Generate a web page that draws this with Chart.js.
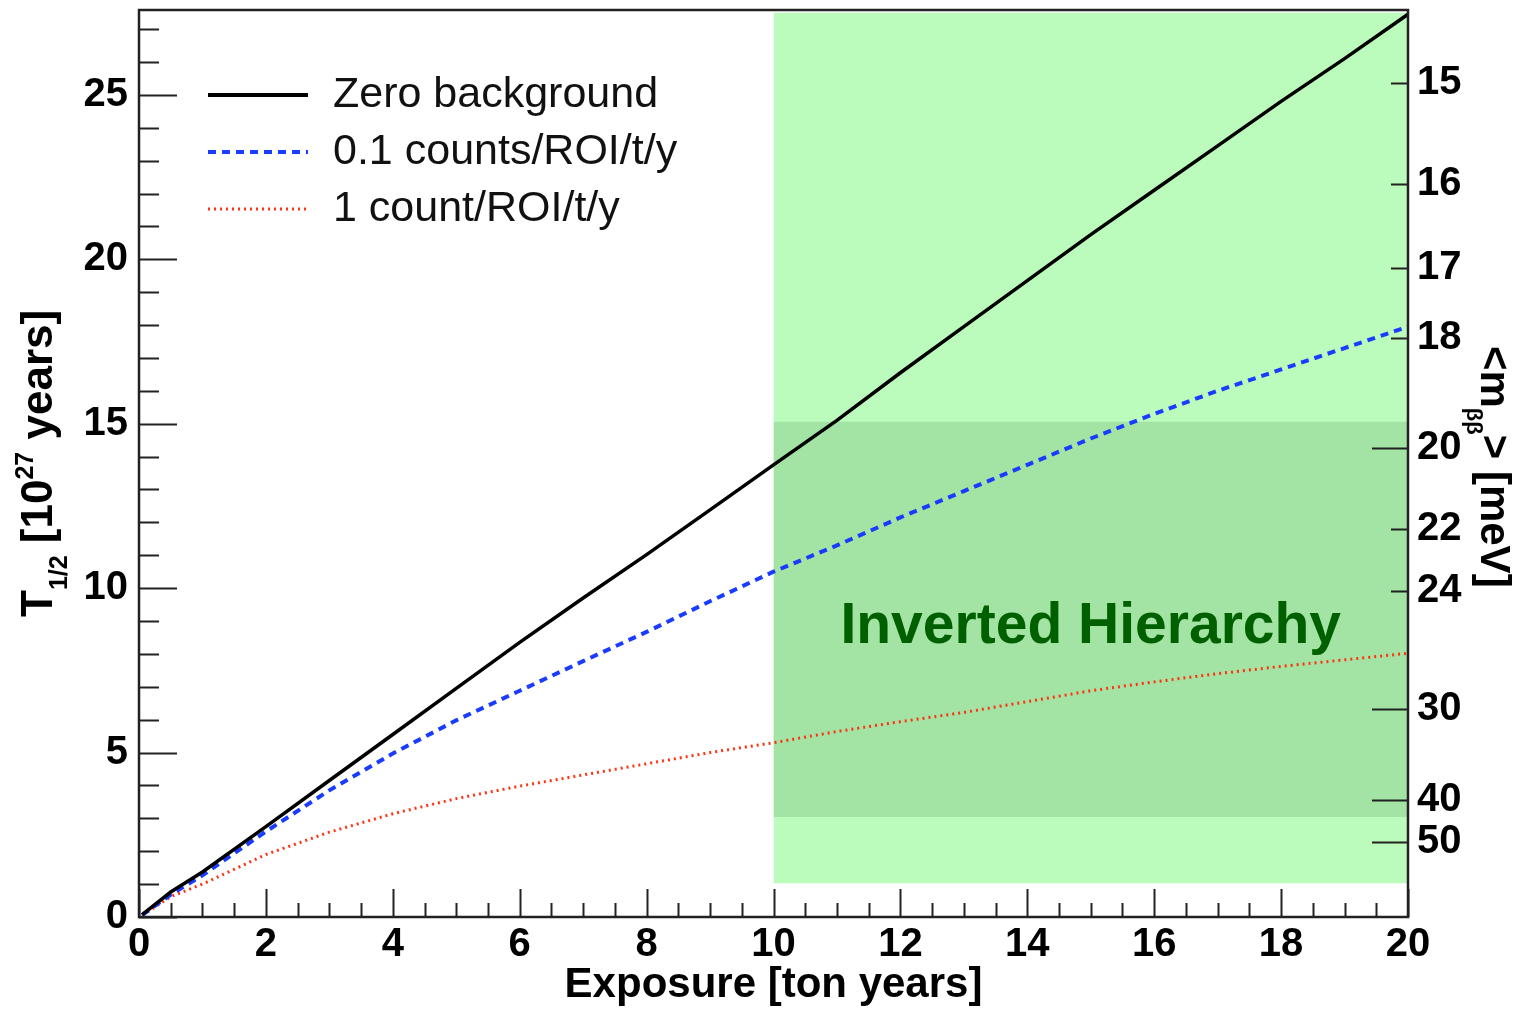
<!DOCTYPE html>
<html>
<head>
<meta charset="utf-8">
<script src="https://cdn.jsdelivr.net/npm/chart.js"></script>
<style>
  html, body { margin: 0; padding: 0; background: #fff; }
  canvas { display: block; }
</style>
</head>
<body>
<canvas id="sensChart" width="1522" height="1011"></canvas>
<script>
// Exposure [ton years] and half-life sensitivity [1e27 years]
const exposure = [0.05, 0.5, 1, 2, 3, 4, 5, 6, 7, 8, 9, 10, 11, 12, 13, 14, 15, 16, 17, 18, 19, 20];
const zeroBackground = [0.07, 0.76, 1.37, 2.75, 4.15, 5.55, 6.95, 8.35, 9.7, 11.02, 12.38, 13.75, 15.1, 16.55, 17.95, 19.35, 20.75, 22.1, 23.45, 24.8, 26.1, 27.45];
const bkgTenth = [0.06, 0.68, 1.27, 2.6, 3.85, 4.97, 5.98, 6.88, 7.78, 8.67, 9.6, 10.5, 11.3, 12.15, 12.95, 13.75, 14.55, 15.3, 16.0, 16.65, 17.3, 17.95];
const bkgOne = [0.05, 0.62, 1.0, 1.9, 2.58, 3.14, 3.6, 3.98, 4.32, 4.66, 5.0, 5.3, 5.64, 5.94, 6.22, 6.55, 6.88, 7.15, 7.4, 7.62, 7.82, 8.02];
const seriesNames = ['Zero background', '0.1 counts/ROI/t/y', '1 count/ROI/t/y'];

// Axes
const xTicks = [0, 2, 4, 6, 8, 10, 12, 14, 16, 18, 20];
const yTicks = [0, 5, 10, 15, 20, 25];
const massTicks = [15, 16, 17, 18, 20, 22, 24, 30, 40, 50];   // <m_bb> [meV]
const massMajor = [20, 30, 40, 50];
const massToT = 5705;   // T1/2 [1e27 y] = massToT / m^2

// Inverted hierarchy bands (exposure range, T1/2 range)
const bandExposure = [10, 20];
const ihOuter = [1.03, 27.5];
const ihInner = [3.04, 15.06];

const toPoints = (xs, ys) => xs.map((x, i) => ({ x: x, y: ys[i] }));
const bandPoints = (range) => bandExposure.map(x => ({ x: x, y: range[1] }));

const FONT = "'Liberation Sans', Arial, Helvetica, sans-serif";

// no label overhang padding, the frame is placed by the layout only
const noOverhang = s => {
    s.paddingTop = 0;
    s.paddingBottom = 0;
    s.paddingLeft = 0;
    s.paddingRight = 0;
};

// frame + inward ticks like the ROOT style
const frameTicks = {
    id: 'frameTicks',
    afterDraw(chart) {
        const { ctx, chartArea: a, scales } = chart;
        const x = scales.x, y = scales.y, y2 = scales.y2;
        ctx.save();
        ctx.strokeStyle = '#222';
        ctx.lineWidth = 2;
        ctx.beginPath();
        for (let v = 0; v <= 20.001; v += 0.5) {
            const px = Math.round(x.getPixelForValue(v)) + 0.5;
            const len = (Math.abs(v % 2) < 1e-6) ? 28 : 14;
            ctx.moveTo(px, a.bottom);
            ctx.lineTo(px, a.bottom - len);
        }
        for (let v = 0; v <= 27; v += 1) {
            const py = Math.round(y.getPixelForValue(v)) + 0.5;
            const len = (v % 5 === 0) ? 38 : 20;
            ctx.moveTo(a.left, py);
            ctx.lineTo(a.left + len, py);
        }
        massTicks.forEach(m => {
            const py = Math.round(y2.getPixelForValue(massToT / (m * m))) + 0.5;
            const len = massMajor.includes(m) ? 36 : 17;
            ctx.moveTo(a.right, py);
            ctx.lineTo(a.right - len, py);
        });
        ctx.stroke();
        ctx.lineWidth = 2.5;
        ctx.strokeRect(a.left, a.top, a.right - a.left, a.bottom - a.top);
        ctx.restore();
    }
};

// legend, band label and axis titles with sub/superscripts
const annotations = {
    id: 'annotations',
    afterDatasetsDraw(chart) {
        const { ctx, chartArea: a, scales: { x, y } } = chart;
        ctx.save();

        // Inverted Hierarchy label
        ctx.fillStyle = '#006000';
        ctx.font = 'bold 57px ' + FONT;
        ctx.textAlign = 'center';
        ctx.textBaseline = 'middle';
        ctx.fillText('Inverted Hierarchy', x.getPixelForValue(15), y.getPixelForValue(8.8));

        // legend
        const lineDs = chart.data.datasets.filter(d => d.isSeries);
        lineDs.forEach((ds, i) => {
            const ly = a.top + 85 + i * 57;
            ctx.beginPath();
            ctx.strokeStyle = ds.borderColor;
            ctx.lineWidth = ds.legendWidth;
            ctx.setLineDash(ds.borderDash || []);
            ctx.moveTo(a.left + 69, ly);
            ctx.lineTo(a.left + 169, ly);
            ctx.stroke();
            ctx.setLineDash([]);
            ctx.fillStyle = '#111';
            ctx.font = '43px ' + FONT;
            ctx.textAlign = 'left';
            ctx.textBaseline = 'middle';
            ctx.fillText(ds.label, a.left + 194, ly);
        });
        ctx.restore();
    },
    afterDraw(chart) {
        const { ctx } = chart;
        const runs = (parts) => {
            let cx = 0;
            parts.forEach(p => {
                ctx.font = 'bold ' + p.size + 'px ' + FONT;
                ctx.fillText(p.t, cx, p.dy);
                cx += ctx.measureText(p.t).width;
            });
        };
        ctx.save();
        ctx.fillStyle = '#000';
        ctx.textAlign = 'left';
        ctx.textBaseline = 'alphabetic';

        // left title, reads bottom to top
        ctx.save();
        ctx.translate(52, 617);
        ctx.rotate(-Math.PI / 2);
        runs([
            { t: 'T', size: 44, dy: 0 },
            { t: '1/2', size: 25, dy: 15 },
            { t: ' [10', size: 44, dy: 0 },
            { t: '27', size: 25, dy: -19 },
            { t: ' years]', size: 44, dy: 0 }
        ]);
        ctx.restore();

        // right title, reads top to bottom
        ctx.save();
        ctx.translate(1481, 346);
        ctx.rotate(Math.PI / 2);
        runs([
            { t: '<m', size: 42, dy: 0 },
            { t: 'ββ', size: 22, dy: 14 },
            { t: '> [meV]', size: 42, dy: 0 }
        ]);
        ctx.restore();

        ctx.restore();
    }
};

const ctx = document.getElementById('sensChart').getContext('2d');

const chart = new Chart(ctx, {
    type: 'line',
    data: {
        datasets: [
            {
                label: seriesNames[0],
                isSeries: true,
                data: toPoints(exposure, zeroBackground),
                borderColor: '#000000',
                borderWidth: 3.5,
                legendWidth: 4,
                pointRadius: 0,
                fill: false,
                order: 1
            },
            {
                label: seriesNames[1],
                isSeries: true,
                data: toPoints(exposure, bkgTenth),
                borderColor: '#1a3cff',
                borderWidth: 4,
                legendWidth: 4,
                borderDash: [8, 6],
                pointRadius: 0,
                fill: false,
                order: 2
            },
            {
                label: seriesNames[2],
                isSeries: true,
                data: toPoints(exposure, bkgOne),
                borderColor: '#ff3311',
                borderWidth: 3,
                legendWidth: 3,
                borderDash: [2, 4],
                pointRadius: 0,
                fill: false,
                order: 3
            },
            {
                label: 'IH inner',
                data: bandPoints(ihInner),
                borderWidth: 0,
                borderColor: 'rgba(0,0,0,0)',
                backgroundColor: '#a3e4a5',
                pointRadius: 0,
                fill: { value: ihInner[0] },
                order: 4
            },
            {
                label: 'IH outer',
                data: bandPoints(ihOuter),
                borderWidth: 0,
                borderColor: 'rgba(0,0,0,0)',
                backgroundColor: '#bbfbbb',
                pointRadius: 0,
                fill: { value: ihOuter[0] },
                order: 5
            }
        ]
    },
    options: {
        responsive: false,
        animation: false,
        layout: { padding: { top: 10, left: 0, right: 0, bottom: 0 } },
        plugins: {
            legend: { display: false },
            tooltip: { enabled: false }
        },
        elements: { line: { tension: 0 } },
        scales: {
            x: {
                type: 'linear',
                min: 0,
                max: 20,
                afterBuildTicks: s => { s.ticks = xTicks.map(v => ({ value: v })); },
                afterFit: s => { s.height = 94; noOverhang(s); },
                grid: { display: false, drawTicks: false, tickLength: 0 },
                border: { display: false },
                ticks: {
                    color: '#000',
                    padding: 4,
                    maxRotation: 0,
                    font: { family: FONT, size: 40, weight: 'bold' }
                },
                title: {
                    display: true,
                    text: 'Exposure [ton years]',
                    color: '#000',
                    padding: { top: 0, bottom: 0 },
                    font: { family: FONT, size: 42, weight: 'bold' }
                }
            },
            y: {
                type: 'linear',
                position: 'left',
                min: 0,
                max: 27.58,
                afterBuildTicks: s => { s.ticks = yTicks.map(v => ({ value: v })); },
                afterFit: s => { s.width = 139; noOverhang(s); },
                grid: { display: false, drawTicks: false, tickLength: 0 },
                border: { display: false },
                ticks: {
                    color: '#000',
                    padding: 11,
                    font: { family: FONT, size: 40, weight: 'bold' }
                }
            },
            y2: {
                type: 'linear',
                position: 'right',
                min: 0,
                max: 27.58,
                afterBuildTicks: s => { s.ticks = massTicks.map(m => ({ value: massToT / (m * m) })); },
                afterFit: s => { s.width = 114; noOverhang(s); },
                grid: { display: false, drawTicks: false, tickLength: 0 },
                border: { display: false },
                ticks: {
                    color: '#000',
                    padding: 9,
                    callback: (value, index) => String(massTicks[index]),
                    font: { family: FONT, size: 40, weight: 'bold' }
                }
            }
        }
    },
    plugins: [annotations, frameTicks]
});
</script>
</body>
</html>
